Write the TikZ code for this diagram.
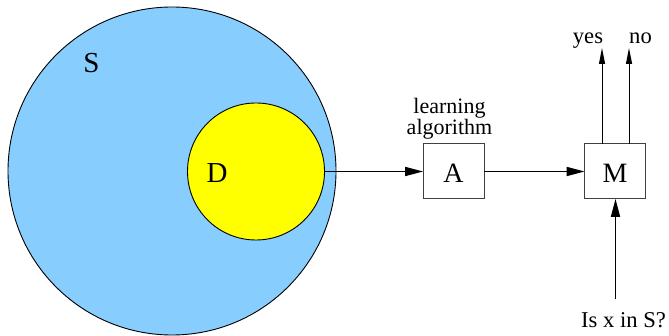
\documentclass[tikz,border=0pt]{standalone}
\usepackage{fontspec}
\setmainfont{Liberation Serif}
\usepackage{xcolor}
\usetikzlibrary{arrows.meta,positioning,calc}
\definecolor{setblue}{HTML}{87CEFF}
\definecolor{setyellow}{HTML}{FFFF00}

\begin{document}
\begin{tikzpicture}[x=0.5pt, y=-0.5pt, >={Triangle[length=9pt,width=4.6pt]},
  setcirc/.style={circle, draw=black, line width=0.45pt, inner sep=0pt, outer sep=0pt},
  unitbox/.style={draw=black!75, line width=0.5pt, minimum width=30.5pt, minimum height=27.5pt,
                  inner sep=0pt, outer sep=0pt, text height=11.5pt, text depth=0pt,
                  font=\fontsize{14}{14}\selectfont},
  lbl/.style={font=\fontsize{11.3}{13.5}\selectfont, inner sep=0pt},
  setlbl/.style={font=\fontsize{14.5}{15}\selectfont, inner sep=0pt, anchor=base},
  flow/.style={->, line width=0.5pt}]

\useasboundingbox (0,0) rectangle (669,336);

% ---------- the sets S and D
\node[setcirc, fill=setblue, minimum size=164pt] (S) at (172,171) {};
\node[setcirc, fill=setyellow, minimum size=68.5pt] (D) at (256,171.5) {};
\node[setlbl] (Slbl) at (91.5,72.5) {S};
\node[setlbl] (Dlbl) at (217,183) {D};

% ---------- learner and model
\node[unitbox] (A) at (453.5,171.5) {A};
\node[unitbox] (M) at (615,171.5) {M};
\node[lbl, font=\fontsize{11}{10.5}\selectfont, align=center] (alg) at (449.5,118.5) {learning\\algorithm};

\draw[flow] (D.east) -- (A.west);
\draw[flow] (A.east) -- (M.west);

% ---------- answers and query
\node[lbl, anchor=base] (yes) at (588,44) {yes};
\node[lbl, anchor=base] (no) at (640.5,44) {no};
\coordinate (yesend) at (602,48);
\coordinate (noend) at (629,48);
\draw[flow, >={Triangle[length=8pt,width=3pt]}] (M.north -| yesend) -- (yesend);
\draw[flow, >={Triangle[length=8pt,width=3pt]}] (M.north -| noend) -- (noend);

\node[lbl, anchor=base] (query) at (623.5,328) {Is x in S?};
\coordinate (qtop) at (615.5,299);
\draw[flow] (qtop) -- (qtop |- M.south);

\end{tikzpicture}
\end{document}
